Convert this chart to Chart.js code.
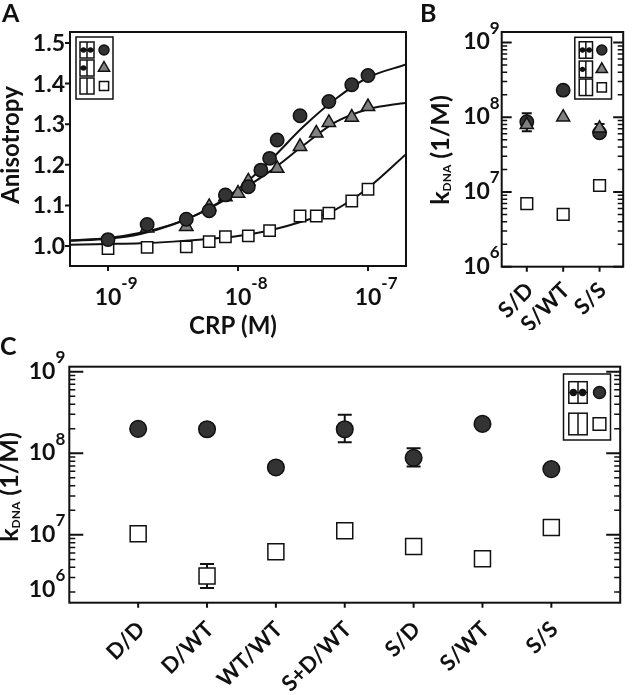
<!DOCTYPE html>
<html>
<head>
<meta charset="utf-8">
<title>CRP anisotropy and kDNA</title>
<script src="https://cdn.jsdelivr.net/npm/chart.js@4.4.1/dist/chart.umd.min.js"></script>
<style>
  html, body { margin: 0; padding: 0; background: #fff; }
  #page { position: relative; width: 633px; height: 695px; overflow: hidden; }
  canvas { position: absolute; }
</style>
</head>
<body>
<div id="page">
  <canvas id="chartA" width="420" height="345" style="left:0px;top:0px"></canvas>
  <canvas id="chartB" width="213" height="330" style="left:420px;top:0px"></canvas>
  <canvas id="chartC" width="633" height="370" style="left:0px;top:325px"></canvas>
</div>
<script>
// ---- Panel A: anisotropy vs CRP (M) ----
var concCircA = [1e-9, 2e-9, 4e-9, 6e-9, 8e-9, 1.2e-8, 1.5e-8, 1.75e-8, 2e-8, 3e-8, 5e-8, 7.5e-8, 1e-7];
var anisoCircA = [1.016, 1.053, 1.066, 1.087, 1.126, 1.146, 1.187, 1.216, 1.261, 1.321, 1.356, 1.397, 1.420];
var concTriA = [2e-9, 4e-9, 6e-9, 8e-9, 1e-8, 1.2e-8, 2e-8, 3e-8, 4e-8, 5e-8, 7.5e-8, 1e-7];
var anisoTriA = [1.044, 1.048, 1.097, 1.121, 1.130, 1.160, 1.191, 1.245, 1.278, 1.304, 1.317, 1.343];
var concSqA = [1e-9, 2e-9, 4e-9, 6e-9, 8e-9, 1.2e-8, 1.75e-8, 3e-8, 4e-8, 5e-8, 7.5e-8, 1e-7];
var anisoSqA = [0.994, 0.997, 0.998, 1.011, 1.023, 1.025, 1.038, 1.074, 1.074, 1.081, 1.111, 1.140];

// fitted curves
var fitConcA = [5.1e-10, 1e-9, 1.78e-9, 3.16e-9, 5.62e-9, 1e-8, 1.78e-8, 3.16e-8, 5.62e-8, 1e-7, 1.96e-7];
var fitCircA = [1.014, 1.020, 1.033, 1.054, 1.088, 1.140, 1.212, 1.293, 1.362, 1.415, 1.447];
var fitTriA = [1.013, 1.018, 1.030, 1.053, 1.088, 1.133, 1.185, 1.247, 1.305, 1.337, 1.353];
var fitSqA = [1.003, 1.005, 1.007, 1.011, 1.017, 1.025, 1.039, 1.061, 1.090, 1.143, 1.226];

var tickAx = [1e-9, 1e-8, 1e-7];
var tickAxExp = ['-9', '-8', '-7'];
var tickAy = [1.0, 1.1, 1.2, 1.3, 1.4, 1.5];

// ---- Panel B: kDNA for three complexes ----
var catB = ['S/D', 'S/WT', 'S/S'];
var circB = [8.7e7, 2.3e8, 6.2e7];
var circBLo = [6.5e7, null, null];
var circBHi = [1.13e8, null, null];
var triB = [7.9e7, 1.0e8, 7.1e7];
var triBLo = [null, null, 6.6e7];
var triBHi = [null, null, 8.1e7];
var sqB = [7.0e6, 5.0e6, 1.22e7];
var decB = [6, 7, 8, 9];

// ---- Panel C: kDNA for all complexes ----
var catC = ['D/D', 'D/WT', 'WT/WT', 'S+D/WT', 'S/D', 'S/WT', 'S/S'];
var circC = [1.99e8, 1.97e8, 6.7e7, 1.97e8, 8.8e7, 2.29e8, 6.4e7];
var circCLo = [null, null, null, 1.36e8, 6.9e7, null, null];
var circCHi = [null, null, null, 2.97e8, 1.15e8, null, null];
var sqC = [1.03e7, 3.13e6, 6.2e6, 1.12e7, 7.2e6, 5.1e6, 1.23e7];
var sqCLo = [null, 2.23e6, null, null, null, null, null];
var sqCHi = [null, 4.4e6, null, null, null, null, null];
var decC = [7, 8, 9];

var FONT = 'Lato, "Open Sans", sans-serif';
var INK = '#111';
function font(sz) { return 'bold ' + sz + 'px ' + FONT; }

function pts(xs, ys) {
    return xs.map(function(x, i) { return {x: x, y: ys[i]}; });
}

// "10" with a raised exponent
function powLabel(ctx, exp, x, base, mode, sz) {
    var esz = Math.round(sz * 0.72);
    ctx.textAlign = 'left';
    ctx.textBaseline = 'alphabetic';
    ctx.font = font(sz);
    var w10 = ctx.measureText('10').width;
    ctx.font = font(esz);
    var we = ctx.measureText(exp).width;
    var x0 = mode === 'right' ? x - w10 - we : x - w10 / 2;
    ctx.font = font(sz);
    ctx.fillText('10', x0, base);
    ctx.font = font(esz);
    ctx.fillText(exp, x0 + w10, base - sz * 0.68);
}

function marker(ctx, style, x, y, r, fill) {
    ctx.beginPath();
    if (style === 'circle') {
        ctx.arc(x, y, r, 0, Math.PI * 2);
    } else if (style === 'triangle') {
        ctx.moveTo(x, y - r);
        ctx.lineTo(x + r * 0.866, y + r / 2);
        ctx.lineTo(x - r * 0.866, y + r / 2);
        ctx.closePath();
    } else {
        var s = r * Math.SQRT1_2;
        ctx.rect(x - s, y - s, 2 * s, 2 * s);
    }
    ctx.fillStyle = fill;
    ctx.fill();
    ctx.lineWidth = 1.5;
    ctx.strokeStyle = INK;
    ctx.stroke();
}

// little dimer pictogram: kind 2 = both sites filled, 1 = one, 0 = none
function icon(ctx, x, y, w, h, kind) {
    ctx.lineWidth = 1.5;
    ctx.strokeStyle = INK;
    ctx.fillStyle = '#fff';
    ctx.fillRect(x, y, w, h);
    ctx.strokeRect(x, y, w, h);
    ctx.beginPath();
    ctx.moveTo(x + w / 2, y);
    ctx.lineTo(x + w / 2, y + h);
    if (kind > 0) {
        ctx.moveTo(x, y + h / 2);
        ctx.lineTo(kind === 2 ? x + w : x + w / 2, y + h / 2);
    }
    ctx.stroke();
    ctx.fillStyle = INK;
    if (kind > 0) {
        ctx.beginPath();
        ctx.arc(x + w / 4, y + h / 2, w / 5, 0, Math.PI * 2);
        ctx.fill();
    }
    if (kind === 2) {
        ctx.beginPath();
        ctx.arc(x + w * 3 / 4, y + h / 2, w / 5, 0, Math.PI * 2);
        ctx.fill();
    }
}

var COLORS = {circle: '#333', triangle: '#808080', rect: '#fff'};

function legendBox(ctx, x, y, w, h, rows, L) {
    ctx.fillStyle = '#fff';
    ctx.fillRect(x, y, w, h);
    ctx.lineWidth = 1.5;
    ctx.strokeStyle = INK;
    ctx.strokeRect(x, y, w, h);
    rows.forEach(function(r, i) {
        var cy = y + L.rowY[i];
        icon(ctx, x + L.ix, cy - L.ih / 2, L.iw, L.ih, r.kind);
        marker(ctx, r.style, x + L.mx, cy, L.mr[r.style], COLORS[r.style]);
    });
}

function kTitle(ctx, baseX, cy, sz) {
    var ssz = Math.round(sz * 0.48);
    ctx.save();
    ctx.translate(baseX, cy);
    ctx.rotate(-Math.PI / 2);
    ctx.textAlign = 'left';
    ctx.textBaseline = 'alphabetic';
    ctx.font = font(sz);
    var wk = ctx.measureText('k').width;
    var wr = ctx.measureText(' (1/M)').width;
    ctx.font = font(ssz);
    var wd = ctx.measureText('DNA').width;
    var x0 = -(wk + wd + wr) / 2;
    ctx.fillStyle = INK;
    ctx.font = font(sz);
    ctx.fillText('k', x0, 0);
    ctx.fillText(' (1/M)', x0 + wk + wd, 0);
    ctx.font = font(ssz);
    ctx.fillText('DNA', x0 + wk, 2);
    ctx.restore();
}

function logTicks(ctx, sc, a, majLen, minLen) {
    var lo = Math.floor(Math.log10(sc.min)), hi = Math.ceil(Math.log10(sc.max));
    for (var d = lo; d <= hi; d++) {
        for (var m = 1; m < 10; m++) {
            var v = m * Math.pow(10, d);
            if (v < sc.min * 0.999 || v > sc.max * 1.001) continue;
            var py = sc.getPixelForValue(v);
            var len = m === 1 ? majLen : minLen;
            ctx.lineWidth = m === 1 ? 2 : 1.5;
            ctx.beginPath();
            ctx.moveTo(a.left, py); ctx.lineTo(a.left + len, py);
            ctx.moveTo(a.right, py); ctx.lineTo(a.right - len, py);
            ctx.stroke();
        }
    }
}

function catAxis(ctx, sc, a, cats, sz, dx, dy) {
    ctx.lineWidth = 2;
    ctx.beginPath();
    cats.forEach(function(c, i) {
        var px = sc.getPixelForValue(i);
        ctx.moveTo(px, a.bottom); ctx.lineTo(px, a.bottom + 5);
    });
    ctx.stroke();
    ctx.font = font(sz);
    ctx.textAlign = 'right';
    ctx.textBaseline = 'middle';
    cats.forEach(function(c, i) {
        var px = sc.getPixelForValue(i);
        ctx.save();
        ctx.translate(px + dx, a.bottom + dy);
        ctx.rotate(-Math.PI / 4);
        ctx.fillText(c, 0, 0);
        ctx.restore();
    });
}

var errorBars = {
    id: 'errorBars',
    beforeDatasetsDraw: function(chart) {
        var ctx = chart.ctx, xs = chart.scales.x, ys = chart.scales.y;
        ctx.save();
        ctx.strokeStyle = INK;
        ctx.lineWidth = 2;
        chart.data.datasets.forEach(function(ds) {
            if (!ds.errLo) return;
            ds.data.forEach(function(p, i) {
                if (ds.errLo[i] == null) return;
                var px = xs.getPixelForValue(p.x);
                var y1 = ys.getPixelForValue(ds.errLo[i]), y2 = ys.getPixelForValue(ds.errHi[i]);
                var c = ds.capHalf;
                ctx.beginPath();
                ctx.moveTo(px, y1); ctx.lineTo(px, y2);
                ctx.moveTo(px - c, y1); ctx.lineTo(px + c, y1);
                ctx.moveTo(px - c, y2); ctx.lineTo(px + c, y2);
                ctx.stroke();
            });
        });
        ctx.restore();
    }
};

var legendRows3 = [{kind: 2, style: 'circle'}, {kind: 1, style: 'triangle'}, {kind: 0, style: 'rect'}];
var legendRows2 = [{kind: 2, style: 'circle'}, {kind: 0, style: 'rect'}];

function baseOptions(pad, xScale, yScale) {
    return {
        responsive: false,
        animation: false,
        layout: {padding: pad},
        plugins: {legend: {display: false}, tooltip: {enabled: false}},
        scales: {x: xScale, y: yScale}
    };
}

function markerSet(data, style, r, extra) {
    var ds = {
        data: data,
        pointStyle: style,
        pointRadius: r,
        pointBackgroundColor: COLORS[style],
        pointBorderColor: INK,
        pointBorderWidth: 1.5,
        showLine: false,
        clip: false,
        order: 1
    };
    for (var k in extra) ds[k] = extra[k];
    return ds;
}

function fitSet(data) {
    return {
        data: data,
        showLine: true,
        borderColor: INK,
        borderWidth: 2,
        pointRadius: 0,
        cubicInterpolationMode: 'monotone',
        fill: false,
        order: 5
    };
}

function build() {
    // ---------- A ----------
    new Chart(document.getElementById('chartA'), {
        type: 'scatter',
        data: {
            datasets: [
                markerSet(pts(concCircA, anisoCircA), 'circle', 6.7),
                markerSet(pts(concTriA, anisoTriA), 'triangle', 7.7),
                markerSet(pts(concSqA, anisoSqA), 'rect', 8),
                fitSet(pts(fitConcA, fitCircA)),
                fitSet(pts(fitConcA, fitTriA)),
                fitSet(pts(fitConcA, fitSqA))
            ]
        },
        options: baseOptions({left: 70, top: 32, right: 14, bottom: 79},
            {type: 'logarithmic', display: false, min: 5.1e-10, max: 1.96e-7},
            {type: 'linear', display: false, min: 0.951, max: 1.527}),
        plugins: [{
            id: 'decoA',
            afterDraw: function(chart) {
                var ctx = chart.ctx, a = chart.chartArea, xs = chart.scales.x, ys = chart.scales.y;
                ctx.save();
                ctx.strokeStyle = INK; ctx.fillStyle = INK; ctx.lineWidth = 2;
                ctx.strokeRect(a.left, a.top, a.right - a.left, a.bottom - a.top);
                ctx.beginPath();
                tickAx.forEach(function(v) {
                    var px = xs.getPixelForValue(v);
                    ctx.moveTo(px, a.bottom); ctx.lineTo(px, a.bottom + 5);
                });
                tickAy.forEach(function(v) {
                    var py = ys.getPixelForValue(v);
                    ctx.moveTo(a.left, py); ctx.lineTo(a.left - 5, py);
                });
                ctx.stroke();
                ctx.font = font(23);
                ctx.textAlign = 'right'; ctx.textBaseline = 'alphabetic';
                tickAy.forEach(function(v) {
                    ctx.fillText(v.toFixed(1), a.left - 5, ys.getPixelForValue(v) + 8);
                });
                tickAx.forEach(function(v, i) {
                    powLabel(ctx, tickAxExp[i], xs.getPixelForValue(v), a.bottom + 39, 'center', 23);
                });
                ctx.font = font(24);
                ctx.textAlign = 'center';
                ctx.fillText('CRP (M)', 233, 334);
                ctx.save();
                ctx.translate(19, 145);
                ctx.rotate(-Math.PI / 2);
                ctx.fillText('Anisotropy', 0, 0);
                ctx.restore();
                ctx.font = font(25);
                ctx.textAlign = 'left';
                ctx.fillText('A', 2, 22);
                legendBox(ctx, a.left + 6, a.top + 5, 37, 62, legendRows3, {
                    rowY: [13, 31, 49], ix: 4, iw: 14, ih: 16, mx: 28,
                    mr: {circle: 5, triangle: 6.5, rect: 6.5}
                });
                ctx.restore();
            }
        }]
    });

    // ---------- B ----------
    new Chart(document.getElementById('chartB'), {
        type: 'scatter',
        data: {
            datasets: [
                markerSet(pts([0, 1, 2], triB), 'triangle', 7.5, {errLo: triBLo, errHi: triBHi, capHalf: 5}),
                markerSet(pts([0, 1, 2], circB), 'circle', 6.7, {errLo: circBLo, errHi: circBHi, capHalf: 5, order: 2}),
                markerSet(pts([0, 1, 2], sqB), 'rect', 8.3)
            ]
        },
        options: baseOptions({left: 81.7, top: 32, right: 2.3, bottom: 63.3},
            {type: 'linear', display: false, min: -0.69, max: 2.65},
            {type: 'logarithmic', display: false, min: 1e6, max: 1.38e9}),
        plugins: [errorBars, {
            id: 'decoB',
            afterDraw: function(chart) {
                var ctx = chart.ctx, a = chart.chartArea, xs = chart.scales.x, ys = chart.scales.y;
                ctx.save();
                ctx.strokeStyle = INK; ctx.fillStyle = INK; ctx.lineWidth = 2;
                ctx.strokeRect(a.left, a.top, a.right - a.left, a.bottom - a.top);
                logTicks(ctx, ys, a, 10, 5.5);
                ctx.fillStyle = INK;
                decB.forEach(function(e) {
                    powLabel(ctx, String(e), a.left - 2, ys.getPixelForValue(Math.pow(10, e)) + 7, 'right', 23);
                });
                catAxis(ctx, xs, a, catB, 22, 3, 20);
                kTitle(ctx, 29, 150, 25);
                ctx.font = font(25);
                ctx.textAlign = 'left'; ctx.textBaseline = 'alphabetic';
                ctx.fillText('B', 0, 22);
                legendBox(ctx, a.right - 11.7 - 36.7, a.top + 5.3, 36.7, 61.7, legendRows3, {
                    rowY: [12.7, 32, 50], ix: 4.4, iw: 13.3, ih: 16.5, mx: 27,
                    mr: {circle: 5, triangle: 6.5, rect: 6.5}
                });
                ctx.restore();
            }
        }]
    });

    // ---------- C ----------
    var xC = catC.map(function(c, i) { return i; });
    new Chart(document.getElementById('chartC'), {
        type: 'scatter',
        data: {
            datasets: [
                markerSet(pts(xC, circC), 'circle', 8.3, {errLo: circCLo, errHi: circCHi, capHalf: 7}),
                markerSet(pts(xC, sqC), 'rect', 11.3, {errLo: sqCLo, errHi: sqCHi, capHalf: 7})
            ]
        },
        options: baseOptions({left: 69.3, top: 41.7, right: 4.3, bottom: 92.3},
            {type: 'linear', display: false, min: -1, max: 7},
            {type: 'logarithmic', display: false, min: 1.475e6, max: 1.15e9}),
        plugins: [errorBars, {
            id: 'decoC',
            afterDraw: function(chart) {
                var ctx = chart.ctx, a = chart.chartArea, xs = chart.scales.x, ys = chart.scales.y;
                ctx.save();
                ctx.strokeStyle = INK; ctx.fillStyle = INK; ctx.lineWidth = 2;
                ctx.strokeRect(a.left, a.top, a.right - a.left, a.bottom - a.top);
                logTicks(ctx, ys, a, 14, 6);
                ctx.fillStyle = INK;
                decC.forEach(function(e) {
                    powLabel(ctx, String(e), a.left - 4, ys.getPixelForValue(Math.pow(10, e)) + 7, 'right', 23);
                });
                // bottom of the axis carries the 10^6 label in the original figure
                powLabel(ctx, '6', a.left - 4, a.bottom - 6, 'right', 23);
                catAxis(ctx, xs, a, catC, 22, 3, 23);
                kTitle(ctx, 18, 162, 25);
                ctx.font = font(25);
                ctx.textAlign = 'left'; ctx.textBaseline = 'alphabetic';
                ctx.fillText('C', 0, 30);
                legendBox(ctx, a.right - 9.7 - 47, a.top + 7.3, 47, 66, legendRows2, {
                    rowY: [18.5, 50], ix: 5.3, iw: 18.4, ih: 21.6, mx: 36,
                    mr: {circle: 6, rect: 9}
                });
                ctx.restore();
            }
        }]
    });
}

if (document.fonts && document.fonts.load) {
    Promise.all([document.fonts.load('bold 22px Lato'), document.fonts.load('bold 12px Lato')])
        .then(build, build);
} else {
    build();
}
</script>
</body>
</html>
